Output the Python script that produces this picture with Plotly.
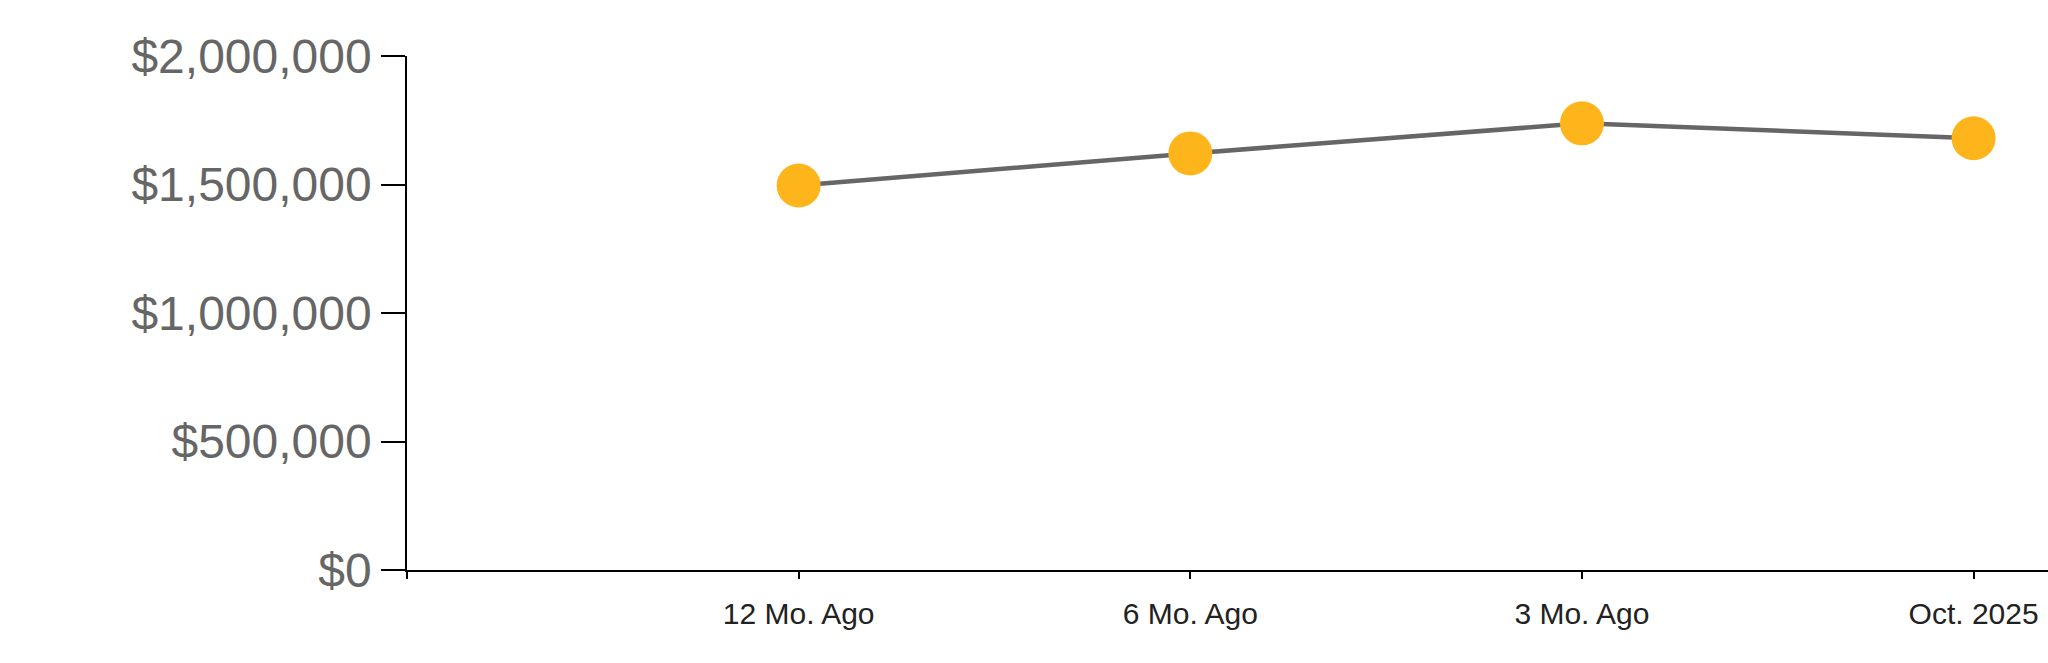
import plotly.graph_objects as go

categories = ["12 Mo. Ago", "6 Mo. Ago", "3 Mo. Ago", "Oct. 2025"]
values = [1496000, 1621000, 1738000, 1680000]
y_ticks = [0, 500000, 1000000, 1500000, 2000000]
y_tick_labels = ["$0", "$500,000", "$1,000,000", "$1,500,000", "$2,000,000"]

xpos = list(range(len(categories)))

fig = go.Figure()
fig.add_trace(go.Scatter(
    x=xpos, y=values, mode="lines+markers",
    line=dict(color="#666666", width=4.5),
    marker=dict(color="#FDB51B", size=44, line=dict(width=0)),
    hoverinfo="skip", showlegend=False, cliponaxis=False,
))

fig.update_layout(
    width=2048, height=663,
    margin=dict(l=407, r=0, t=56, b=93),
    paper_bgcolor="white", plot_bgcolor="white",
    font=dict(family="Liberation Sans, Arial, sans-serif"),
)
fig.update_xaxes(
    range=[-1, 3.19], automargin=False,
    tickmode="array", tickvals=[-1] + xpos, ticktext=[""] + categories,
    showgrid=False, zeroline=False,
    showline=True, linecolor="#000000", linewidth=1.5,
    ticks="outside", ticklen=7, tickcolor="#000000", tickwidth=1.5,
    tickfont=dict(size=30, color="#222222"),
    ticklabelstandoff=9,
)
fig.update_yaxes(
    range=[0, 2000000], automargin=False,
    tickmode="array", tickvals=y_ticks, ticktext=y_tick_labels,
    showgrid=False, zeroline=False,
    showline=True, linecolor="#000000", linewidth=1.5,
    ticks="outside", ticklen=24, tickcolor="#000000", tickwidth=1.5,
    tickfont=dict(size=48, color="#666666"),
    ticklabelstandoff=0,
)

fig.write_html(
    "out.html",
    config={"displayModeBar": False},
    post_script="document.body.style.margin='0';document.body.style.overflow='hidden';",
)
